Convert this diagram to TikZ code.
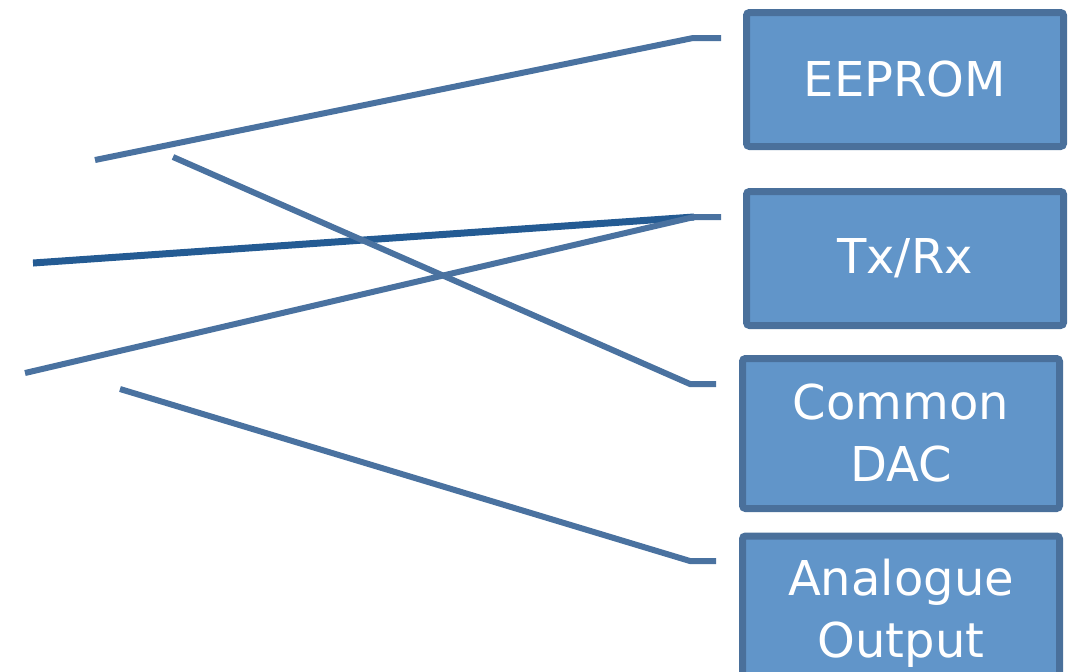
\documentclass[tikz,border=0pt]{standalone}
\usepackage{fontspec}
\setmainfont{DejaVu Sans}
\usepackage{tikz}
\definecolor{wirecol}{HTML}{4A72A0}
\definecolor{darkwire}{HTML}{245B93}
\definecolor{boxfill}{HTML}{6195C9}
\definecolor{boxline}{HTML}{4A709B}
\tikzset{
  unit/.style={draw=boxline, fill=boxfill, line width=3.5pt, rounded corners=1.5pt,
    text=white, inner sep=0pt, outer sep=0pt, align=center,
    font=\fontsize{24}{31}\selectfont, minimum width=158.5pt},
  wire/.style={draw=wirecol, line width=3pt},
}

\begin{document}
\begin{tikzpicture}[x=0.5pt, y=-0.5pt]
  \useasboundingbox (0, 0) rectangle (1074, 671);

  \node[unit, minimum height=67pt] (eeprom) at (905, 79.5) {EEPROM};
  \node[unit, minimum height=67pt] (txrx) at (905, 258.5) {\raisebox{-2pt}{Tx/Rx}};
  \node[unit, minimum height=75pt] (dac) at (901, 433.5) {Common\\DAC};
  \node[unit, minimum height=77pt] (aout) at (901, 613) {Analogue\\Output};

  % free ends on the left
  \coordinate (a) at (95, 160);
  \coordinate (b) at (173, 157);
  \coordinate (c) at (33, 263);
  \coordinate (d) at (25, 373);
  \coordinate (e) at (120, 389);

  % bends and stubs in front of the boxes
  \coordinate (eb) at (693, 38);   \coordinate (es) at (721, 38);
  \coordinate (tb) at (694, 217);  \coordinate (ts) at (721, 217);
  \coordinate (db) at (690, 384);  \coordinate (ds) at (716, 384);
  \coordinate (ob) at (690, 561);  \coordinate (os) at (716, 561);

  \draw[darkwire, line width=3.5pt] (c) -- (tb);
  \draw[wire] (a) -- (eb) -- (es);
  \draw[wire] (b) -- (db) -- (ds);
  \draw[wire] (d) -- (tb) -- (ts);
  \draw[wire] (e) -- (ob) -- (os);
\end{tikzpicture}
\end{document}
